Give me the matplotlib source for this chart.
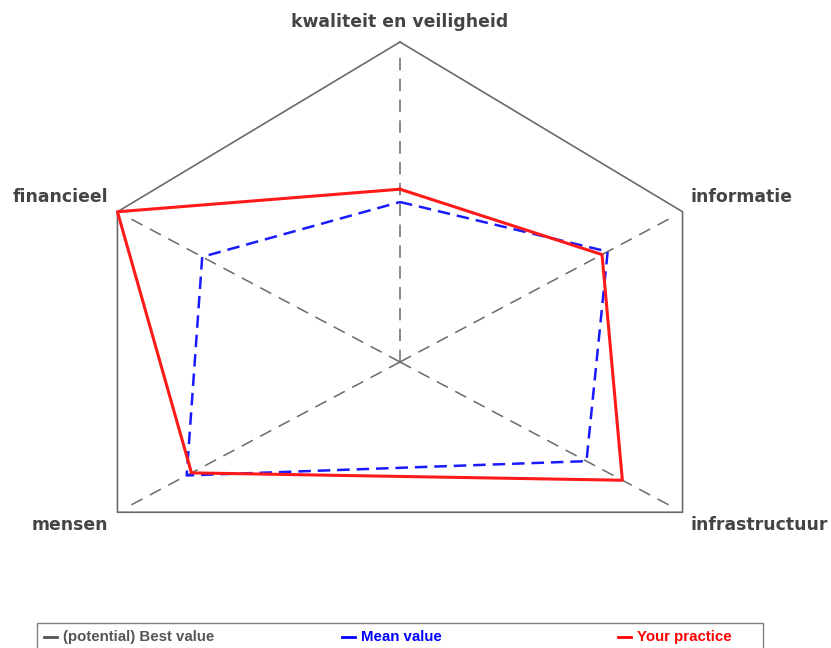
import numpy as np
import matplotlib
matplotlib.use("Agg")
import matplotlib.pyplot as plt
from matplotlib.lines import Line2D
from matplotlib.patches import Rectangle

plt.rcParams['lines.scale_dashes'] = False

categories = ["kwaliteit en veiligheid", "informatie", "infrastructuur", "mensen", "financieel"]
axis_angles_deg = [90, 28, -28, 208, 152]
best_values = [1.0, 1.0, 1.0, 1.0, 1.0]
mean_values = [0.50, 0.735, 0.66, 0.755, 0.70]
practice_values = [0.54, 0.715, 0.787, 0.738, 1.0]
legend_labels = ["(potential) Best value", "Mean value", "Your practice"]

W, H = 831, 648
cx, cy, R = 400, 362, 320

fig = plt.figure(figsize=(W / 100, H / 100), dpi=100)
ax = fig.add_axes([0, 0, 1, 1])
ax.set_xlim(-cx / R, (W - cx) / R)
ax.set_ylim(-(H - cy) / R, cy / R)
ax.axis('off')

theta = np.deg2rad(axis_angles_deg)
ux, uy = np.cos(theta), np.sin(theta)

def poly(vals):
    v = np.asarray(vals)
    x = v * ux
    y = v * uy
    return np.append(x, x[0]), np.append(y, y[0])

# radial axes (dashed)
for i in range(len(categories)):
    ax.plot([0, ux[i] * 0.97], [0, uy[i] * 0.97], color='#6a6a6a', lw=1.1,
            dashes=(9, 6), zorder=1)

# best value polygon
bx, by = poly(best_values)
ax.plot(bx, by, color='#6a6a6a', lw=1.2, zorder=2)

# mean values
mx, my = poly(mean_values)
ax.plot(mx, my, color='#1a1aff', lw=1.8, dashes=(9, 5), zorder=3)

# practice
px, py = poly(practice_values)
ax.plot(px, py, color='#ff1a1a', lw=2.2, zorder=4)

# category labels (pixel positions converted to data)
def p2d(x, y):
    return (x - cx) / R, (cy - y) / R

label_pos = [
    (400, 22, 'center'),
    (690, 197, 'left'),
    (690, 525, 'left'),
    (108, 525, 'right'),
    (108, 197, 'right'),
]
for cat, (lx, ly, ha) in zip(categories, label_pos):
    x, y = p2d(lx, ly)
    ax.text(x, y, cat, ha=ha, va='center', fontsize=12.4, fontweight='bold',
            color='#444444', family='DejaVu Sans')

# legend box
def fx(px_):
    return px_ / W

def fy(py_):
    return 1 - py_ / H

fig.patches.append(Rectangle((fx(37), fy(660)), fx(763) - fx(37), fy(623) - fy(660),
                             transform=fig.transFigure, fill=False,
                             edgecolor='#808080', lw=1.0))
leg_colors = ['#555555', '#0000ff', '#ff0000']
handle_x = [44, 342, 618]
text_x = [63, 361, 637]
leg_y = 637
for lab, col, hx, tx in zip(legend_labels, leg_colors, handle_x, text_x):
    fig.add_artist(Line2D([fx(hx), fx(hx + 13)], [fy(leg_y), fy(leg_y)],
                          transform=fig.transFigure, color=col, lw=2.0))
    fig.text(fx(tx), fy(leg_y), lab, ha='left', va='center', fontsize=10.8,
             fontweight='bold', color=col,
             family=['Liberation Sans Narrow', 'Liberation Sans', 'DejaVu Sans'])

fig.savefig('out.png', dpi=100)
